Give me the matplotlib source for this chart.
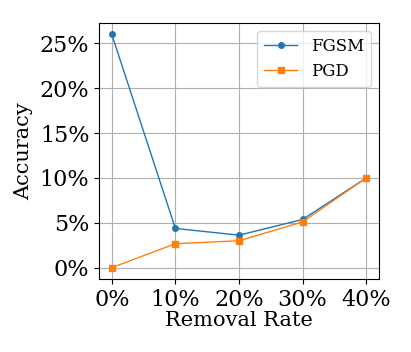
import matplotlib
matplotlib.use("Agg")
import matplotlib.pyplot as plt
from matplotlib.ticker import FuncFormatter, MultipleLocator

# removal rates (%) and accuracy (%)
rates = [0, 10, 20, 30, 40]
fgsm = [26.0, 4.37, 3.62, 5.37, 10.0]
pgd = [0.0, 2.67, 3.0, 5.1, 10.0]

plt.rcParams['font.family'] = 'DejaVu Serif'

fig = plt.figure(figsize=(4.11, 3.52), dpi=100)
ax = fig.add_axes([0.241, 0.2065, 0.681, 0.729])

ax.plot(rates, fgsm, marker='o', markersize=4, linewidth=1, label='FGSM')
ax.plot(rates, pgd, marker='s', markersize=4, linewidth=1, label='PGD')

ax.set_xticks(rates)
ax.yaxis.set_major_locator(MultipleLocator(5))
ax.xaxis.set_major_formatter(FuncFormatter(lambda v, p: '%d%%' % v))
ax.yaxis.set_major_formatter(FuncFormatter(lambda v, p: '%d%%' % v))
ax.tick_params(labelsize=16)
ax.set_xlabel('Removal Rate', fontsize=15, labelpad=0)
ax.set_ylabel('Accuracy', fontsize=15, labelpad=5)
ax.grid(True, color='#b0b0b0', linewidth=0.8)
ax.legend(fontsize=12, loc='upper right')

fig.savefig('out.png', dpi=100)
